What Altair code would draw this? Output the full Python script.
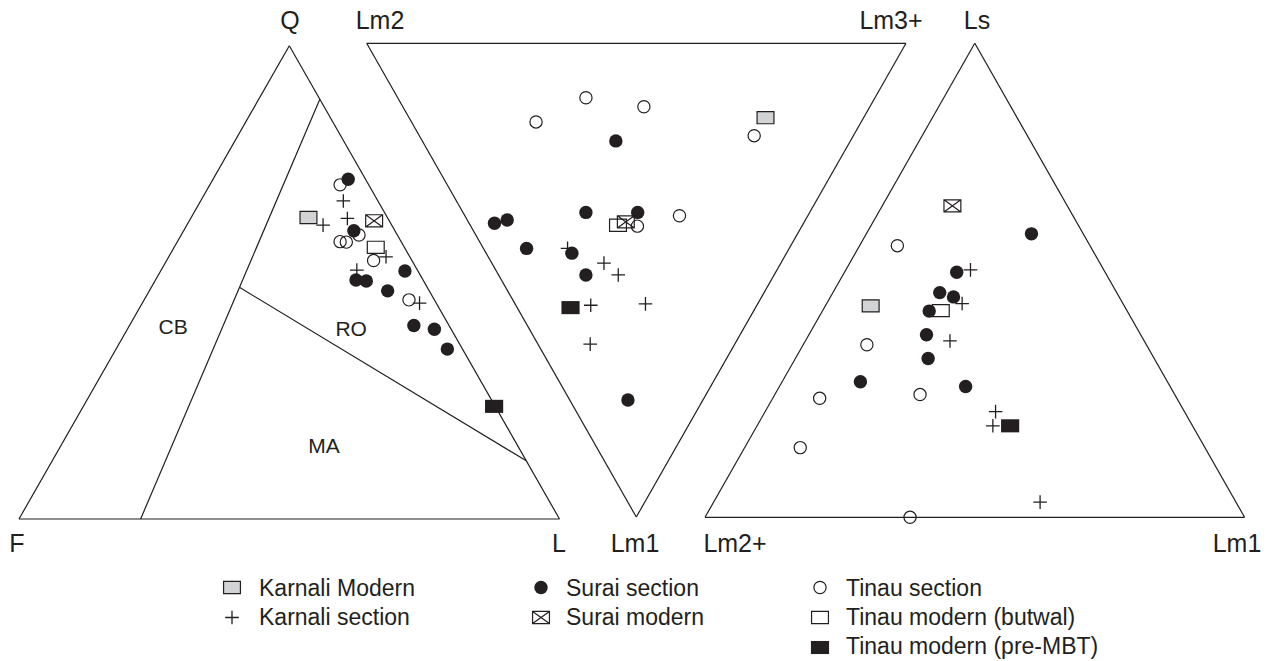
import altair as alt
import pandas as pd

# ---------------- data: compositions (%) ----------------
# QFL diagram, pairs of (Q, L); F = 100 - Q - L
qfl_surai_section = [(71.8, 25.0), (60.9, 31.5), (50.5, 37.1), (50.3, 39.1), (52.4, 45.2),
                     (48.2, 44.1), (40.9, 52.6), (40.1, 56.8), (35.9, 61.3)]
qfl_karnali_section = [(67.2, 26.4), (63.5, 29.0), (62.1, 25.2), (55.4, 40.2), (52.6, 36.2), (45.6, 51.3)]
qfl_tinau_section = [(70.6, 24.1), (60.0, 32.9), (58.6, 30.1), (58.5, 31.3), (54.6, 38.3), (46.3, 49.0)]
qfl_karnali_modern = [(63.7, 21.7)]
qfl_surai_modern = [(63.0, 34.2)]
qfl_tinau_butwal = [(57.4, 37.3)]
qfl_tinau_premabt = [(23.8, 76.0)]

# Lm2-Lm3+-Lm1 diagram, pairs of (Lm1, Lm3+); Lm2 = 100 - Lm1 - Lm3+
lm_surai_section = [(20.6, 35.9), (38.0, 4.7), (37.3, 7.4), (35.7, 22.8), (35.7, 32.4),
                    (43.3, 8.0), (44.3, 15.9), (48.9, 16.2), (75.3, 10.8)]
lm_karnali_section = [(43.3, 15.6), (46.4, 20.8), (48.9, 22.2), (55.3, 13.9), (55.0, 24.2), (63.5, 9.7)]
lm_tinau_section = [(16.6, 23.1), (11.5, 34.9), (13.4, 44.7), (19.5, 62.1), (38.6, 30.9), (36.4, 39.8)]
lm_karnali_modern = [(15.7, 66.1)]
lm_surai_modern = [(37.7, 29.2)]
lm_tinau_butwal = [(38.4, 27.4)]
lm_tinau_premabt = [(55.8, 9.9)]

# Ls-Lm2+-Lm1 diagram, pairs of (Ls, Lm1); Lm2+ = 100 - Ls - Lm1
ls_surai_section = [(59.8, 30.6), (51.7, 20.8), (47.4, 19.8), (46.5, 22.8), (43.5, 19.8),
                    (38.5, 21.8), (33.5, 24.6), (28.6, 14.5), (27.6, 34.5)]
ls_karnali_section = [(52.2, 23.1), (45.1, 25.1), (37.2, 26.8), (22.3, 42.7), (19.3, 43.7), (3.2, 60.5)]
ls_tinau_section = [(57.3, 7.0), (36.4, 11.8), (25.9, 26.9), (25.1, 8.7), (14.7, 10.3), (0.0, 38.0)]
ls_karnali_modern = [(44.6, 8.4)]
ls_surai_modern = [(65.7, 13.0)]
ls_tinau_butwal = [(43.6, 21.9)]
ls_tinau_premabt = [(19.3, 46.9)]

# QFL provenance field boundaries, (Q, L) end points, and field names
qfl_boundaries = [((88.7, 11.3), (0.0, 22.5)), ((48.9, 16.4), (12.3, 87.7))]
qfl_fields = ["CB", "RO", "MA"]
qfl_field_comp = [(40.4, 8.3), (39.9, 41.5), (15.3, 48.8)]

series_names = ["Karnali Modern", "Karnali section", "Surai section", "Surai modern",
                "Tinau section", "Tinau modern (butwal)", "Tinau modern (pre-MBT)"]

# ---------------- layout ----------------
W, H = 1270, 661
INK = "#231f20"
FONT = "Liberation Sans"
# vertices: (first component, second component, remainder)
TRI = {
    "qfl": [(289.3, 45.7), (559.5, 519.0), (19.0, 519.0)],    # Q, L, F
    "lm": [(636.3, 517.0), (906.0, 43.3), (366.7, 43.3)],     # Lm1, Lm3+, Lm2
    "ls": [(974.8, 43.3), (1244.6, 517.3), (705.0, 517.3)],   # Ls, Lm1, Lm2+
}
vertex_labels = [("Q", 290, 29), ("F", 17, 552), ("L", 559, 552),
                 ("Lm2", 380, 29), ("Lm3+", 891, 29), ("Lm1", 635, 552),
                 ("Ls", 977, 29), ("Lm2+", 735, 552), ("Lm1", 1237, 552)]


def bary(tri, a, b):
    fa, fb = a / 100.0, b / 100.0
    fc = 1.0 - fa - fb
    (x1, y1), (x2, y2), (x3, y3) = tri
    return fa * x1 + fb * x2 + fc * x3, fa * y1 + fb * y2 + fc * y3


groups = [
    ("qfl", [qfl_karnali_modern, qfl_karnali_section, qfl_surai_section, qfl_surai_modern,
             qfl_tinau_section, qfl_tinau_butwal, qfl_tinau_premabt]),
    ("lm", [lm_karnali_modern, lm_karnali_section, lm_surai_section, lm_surai_modern,
            lm_tinau_section, lm_tinau_butwal, lm_tinau_premabt]),
    ("ls", [ls_karnali_modern, ls_karnali_section, ls_surai_section, ls_surai_modern,
            ls_tinau_section, ls_tinau_butwal, ls_tinau_premabt]),
]
rows = []
for key, lists in groups:
    for name, pts in zip(series_names, lists):
        for a, b in pts:
            x, y = bary(TRI[key], a, b)
            rows.append({"series": name, "x": x, "y": y, "diagram": key})

# legend entries (series, column, row)
legend_items = [("Karnali Modern", 0, 0), ("Karnali section", 0, 1), ("Surai section", 1, 0),
                ("Surai modern", 1, 1), ("Tinau section", 2, 0), ("Tinau modern (butwal)", 2, 1),
                ("Tinau modern (pre-MBT)", 2, 2)]
leg_sym_x = [232, 541, 820]
leg_txt_x = [259, 566, 846]
leg_sym_y = [587.5, 617.5, 647.5]
leg_txt_y = [595.5, 624.5, 654.0]
leg_text_rows = []
for name, c, r in legend_items:
    rows.append({"series": name, "x": leg_sym_x[c], "y": leg_sym_y[r], "diagram": "legend"})
    leg_text_rows.append({"text": name, "x": leg_txt_x[c], "y": leg_txt_y[r]})
points = pd.DataFrame(rows)

# segments: triangle outlines and QFL field boundaries
segs = []
for key, tri in TRI.items():
    for i in range(3):
        (x1, y1), (x2, y2) = tri[i], tri[(i + 1) % 3]
        segs.append({"x": x1, "y": y1, "x2": x2, "y2": y2})
for (a1, b1), (a2, b2) in qfl_boundaries:
    x1, y1 = bary(TRI["qfl"], a1, b1)
    x2, y2 = bary(TRI["qfl"], a2, b2)
    segs.append({"x": x1, "y": y1, "x2": x2, "y2": y2})
segs = pd.DataFrame(segs)

field_rows = []
for name, (a, b) in zip(qfl_fields, qfl_field_comp):
    x, y = bary(TRI["qfl"], a, b)
    field_rows.append({"text": name, "x": x, "y": y})
fields = pd.DataFrame(field_rows)
vlabels = pd.DataFrame([{"text": t, "x": x, "y": y} for t, x, y in vertex_labels])
legtext = pd.DataFrame(leg_text_rows)

xs = alt.Scale(domain=[0, W], nice=False, zero=False)
ys = alt.Scale(domain=[0, H], nice=False, zero=False, reverse=True)
X = alt.X("x:Q", scale=xs, axis=None)
Y = alt.Y("y:Q", scale=ys, axis=None)

RECT = "M-1,-0.72L1,-0.72L1,0.72L-1,0.72Z"
XRECT = RECT + "M-1,-0.72L1,0.72M1,-0.72L-1,0.72"
PLUS = "M-1,0L1,0M0,-1L0,1"

styles = [
    ("Tinau modern (butwal)", dict(shape=RECT, size=285, filled=False, stroke=INK, strokeWidth=1.2, opacity=1)),
    ("Surai modern", dict(shape=XRECT, size=285, filled=False, stroke=INK, strokeWidth=1.2, opacity=1)),
    ("Tinau section", dict(shape="circle", size=150, filled=False, stroke=INK, strokeWidth=1.2, opacity=1)),
    ("Karnali section", dict(shape=PLUS, size=185, filled=False, stroke=INK, strokeWidth=1.3, opacity=1)),
    ("Karnali Modern", dict(shape=RECT, size=285, filled=True, fill="#d1d3d4", stroke=INK, strokeWidth=1.2, opacity=1)),
    ("Tinau modern (pre-MBT)", dict(shape=RECT, size=330, filled=True, fill=INK, strokeWidth=0, opacity=1)),
    ("Surai section", dict(shape="circle", size=180, filled=True, fill=INK, strokeWidth=0, opacity=1)),
]

layers = [
    alt.Chart(segs).mark_rule(stroke=INK, strokeWidth=1.2).encode(
        x=X, y=Y, x2="x2:Q", y2="y2:Q"),
    alt.Chart(vlabels).mark_text(font=FONT, fontSize=25, color=INK, align="center",
                                 baseline="alphabetic").encode(x=X, y=Y, text="text:N"),
    alt.Chart(fields).mark_text(font=FONT, fontSize=21, color=INK, align="center",
                                baseline="middle").encode(x=X, y=Y, text="text:N"),
    alt.Chart(legtext).mark_text(font=FONT, fontSize=23, color=INK, align="left",
                                 baseline="alphabetic").encode(x=X, y=Y, text="text:N"),
]
for name, st in styles:
    layers.append(
        alt.Chart(points).transform_filter(alt.datum.series == name)
        .mark_point(**st).encode(x=X, y=Y)
    )

chart = alt.layer(*layers).properties(
    width=W, height=H, padding=0, autosize=alt.AutoSizeParams(type="none"),
    background="white",
).configure_view(stroke=None)

chart.save("out.html", embed_options={"renderer": "svg", "actions": False})
